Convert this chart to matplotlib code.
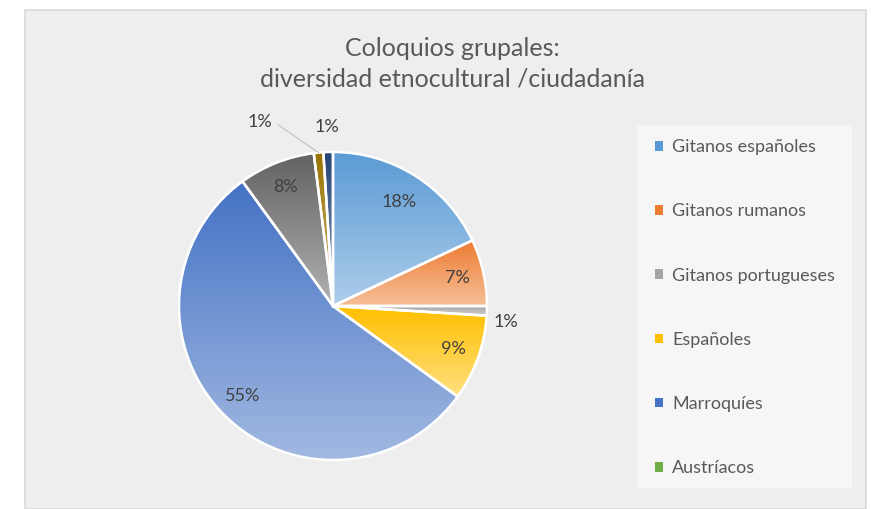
import numpy as np
import matplotlib
matplotlib.use('Agg')
from matplotlib import pyplot as plt
from matplotlib.patches import Rectangle, Patch
from matplotlib.colors import to_rgb

plt.rcParams['font.family'] = ['Lato', 'DejaVu Sans']

# Shares per group (%), clockwise from 12 o'clock, Office palette order
shares = [18, 7, 1, 9, 55, 0, 0, 0, 8, 1, 1]
palette = ['#5B9BD5', '#ED7D31', '#A5A5A5', '#FFC000', '#4472C4', '#70AD47',
           '#255E91', '#9E480E', '#636363', '#997300', '#264478']
legend_names = ['Gitanos españoles', 'Gitanos rumanos', 'Gitanos portugueses',
                'Españoles', 'Marroquíes', 'Austríacos']
title = 'Coloquios grupales:\ndiversidad etnocultural /ciudadanía'

TEXT = '#595959'
LABEL = '#404040'
FS = 13

W, H = 880, 509
fig = plt.figure(figsize=(W / 100, H / 100), dpi=100, facecolor='white')

# chart panel
fig.patches.append(Rectangle((25 / W, 0), 841 / W, 1 - 10 / H, transform=fig.transFigure,
                             facecolor='#eeeeee', edgecolor='#d9d9d9', lw=1.2, zorder=-2))
# legend panel
fig.patches.append(Rectangle((637 / W, 1 - 488 / H), 215 / W, 363 / H, transform=fig.transFigure,
                             facecolor='#f6f6f6', edgecolor='none', zorder=-1))

fig.text(452 / W, 1 - 64 / H, title, ha='center', va='center', fontsize=18,
         color=TEXT, linespacing=1.4)

# pie axes: square, centred on the pie
cx, cy, R, half = 333, 306, 154, 200
ax = fig.add_axes([(cx - half) / W, (H - cy - half) / H, 2 * half / W, 2 * half / H])
lim = half / R

vals = [v for v in shares if v > 0]
cols = [c for v, c in zip(shares, palette) if v > 0]

wedges, _ = ax.pie(vals, colors=cols, startangle=90, counterclock=False, radius=1,
                   wedgeprops=dict(edgecolor='white', linewidth=1.8))

# vertical gradient inside each slice: full colour on top, paler at the bottom
for w, c in zip(wedges, cols):
    verts = w.get_path().vertices
    x0, x1 = verts[:, 0].min(), verts[:, 0].max()
    y0, y1 = verts[:, 1].min(), verts[:, 1].max()
    base = np.array(to_rgb(c))
    t = np.linspace(0, 0.5, 64)[:, None]
    grad = base * (1 - t) + t
    im = ax.imshow(grad[:, None, :], extent=[x0, x1, y0, y1], aspect='auto',
                   interpolation='bilinear', zorder=1)
    im.set_clip_path(w)
    w.set_facecolor('none')
    w.set_zorder(2)
ax.set_xlim(-lim, lim)
ax.set_ylim(-lim, lim)
ax.set_aspect('equal')
ax.axis('off')

# percentage labels
for w, v in zip(wedges, vals):
    ang = np.deg2rad((w.theta1 + w.theta2) / 2)
    if v >= 5:
        r = 0.8 if v == 18 else 0.83
        ax.text(r * np.cos(ang), r * np.sin(ang), f'{v}%', ha='center', va='center',
                fontsize=FS, color=LABEL, zorder=3)

small = [(w, v) for w, v in zip(wedges, vals) if v < 5]
# right-hand 1% (Gitanos portugueses)
w, v = small[0]
ang = np.deg2rad((w.theta1 + w.theta2) / 2)
ax.text(1.12 * np.cos(ang), 1.12 * np.sin(ang) - 0.07, f'{v}%', ha='center', va='center',
        fontsize=FS, color=LABEL)
# top pair
w, v = small[1]
ang = np.deg2rad((w.theta1 + w.theta2) / 2)
ex, ey = np.cos(ang), np.sin(ang)
lx, ly = ex - 0.4, ey + 0.2
ax.plot([ex, lx + 0.14], [ey, ly - 0.02], color='#bfbfbf', lw=0.8)
ax.text(lx + 0.1, ly, f'{v}%', ha='right', va='center', fontsize=FS, color=LABEL)
w, v = small[2]
ang = np.deg2rad((w.theta1 + w.theta2) / 2)
ax.text(1.16 * np.cos(ang), 1.16 * np.sin(ang), f'{v}%', ha='center', va='center',
        fontsize=FS, color=LABEL)

handles = [Patch(facecolor=c, edgecolor='none') for c in palette[:len(legend_names)]]
fig.legend(handles, legend_names, loc='upper left', bbox_to_anchor=(648 / W, 1 - 132 / H),
           frameon=False, fontsize=13, labelcolor=TEXT, handlelength=0.45, handleheight=0.45,
           handletextpad=0.5, labelspacing=2.67, borderaxespad=0)

fig.savefig('out.png', dpi=100, facecolor='white')
